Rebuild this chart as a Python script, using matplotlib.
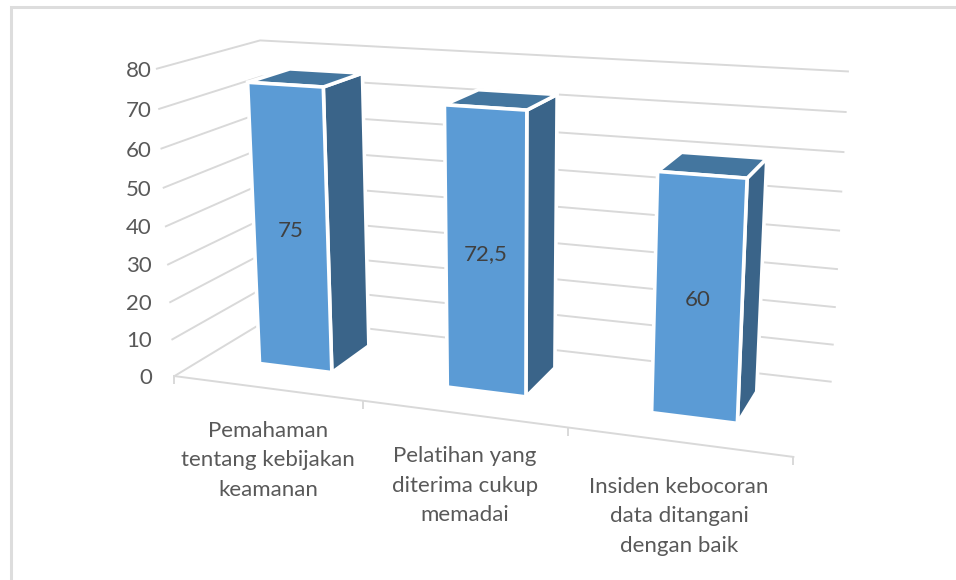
import numpy as np
import matplotlib
matplotlib.use("Agg")
import matplotlib.pyplot as plt

categories = ["Pemahaman\ntentang kebijakan\nkeamanan",
              "Pelatihan yang\nditerima cukup\nmemadai",
              "Insiden kebocoran\ndata ditangani\ndengan baik"]
values = [75, 72.5, 60]
value_labels = ["75", "72,5", "60"]
y_ticks = [0, 10, 20, 30, 40, 50, 60, 70, 80]

# (category pos, value, depth) -> pixel, the points the camera is fitted on
cam_world = [(0, 0, 0), (0, 80, 0), (3, 0, 0), (0, 0, 1), (0, 80, 1), (3, 0, 1), (3, 80, 1), (0, 10, 0)]
cam_pixel = [(175, 377), (157, 68), (793, 457), (271, 317), (260, 41), (831, 381.5), (848, 71.5), (172, 339)]


def fit_camera(world, pixel):
    rows = []
    for (a, b, c), (x, y) in zip(world, pixel):
        rows.append([a, b, c, 1, 0, 0, 0, 0, -x * a, -x * b, -x * c, -x])
        rows.append([0, 0, 0, 0, a, b, c, 1, -y * a, -y * b, -y * c, -y])
    return np.linalg.svd(np.array(rows, dtype=float))[2][-1].reshape(3, 4)


P = fit_camera(cam_world, cam_pixel)


def project(u, v, w):
    x, y, s = P @ np.array([u, v, w, 1.0])
    return x / s, y / s


fig = plt.figure(figsize=(9.56, 5.8), dpi=100)
ax = fig.add_axes([0, 0, 1, 1])
ax.set_xlim(0, 956)
ax.set_ylim(580, 0)
ax.axis("off")

GRID = "#D9D9D9"
TEXT = "#595959"
FONT = "Lato"

# outer frame
ax.plot([11, 11, 956], [580, 7, 7], color="#DDDDDD", lw=2.2, solid_joinstyle="miter")

for t in y_ticks:
    pts = [project(0, t, 0), project(0, t, 1), project(3, t, 1)]
    ax.plot(*zip(*pts), color=GRID, lw=1.4, zorder=1)
    y = project(0, t, 0)[1]
    ax.text(152, y + 2, str(t), ha="right", va="center", color=TEXT, fontsize=16, family=FONT)

# floor front edge and ticks
ax.plot(*zip(project(0, 0, 0), project(3, 0, 0)), color=GRID, lw=1.4, zorder=1)
for i in range(4):
    x, y = project(i, 0, 0)
    ax.plot([x, x], [y, y + 7], color=GRID, lw=1.4, zorder=1)

bar_w = 0.395
w0, w1 = 0.305, 0.74
for i, val in enumerate(values):
    u0, u1 = i + 0.497 - bar_w / 2, i + 0.497 + bar_w / 2
    front = [project(u0, 0, w0), project(u1, 0, w0), project(u1, val, w0), project(u0, val, w0)]
    side = [project(u1, 0, w0), project(u1, 0, w1), project(u1, val, w1), project(u1, val, w0)]
    top = [project(u0, val, w0), project(u1, val, w0), project(u1, val, w1), project(u0, val, w1)]
    ax.fill(*zip(*side), fc="#3A6489", ec="white", lw=2.6, zorder=3)
    ax.fill(*zip(*top), fc="#44769F", ec="white", lw=2.6, zorder=3)
    ax.fill(*zip(*front), fc="#5B9BD5", ec="white", lw=2.6, zorder=4)
    x, y = project(i + 0.497, val / 2, w0)
    ax.text(x, y + 1, value_labels[i], ha="center", va="center", color="#404040", fontsize=16, family=FONT, zorder=5)

label_pos = [(268, 460.5), (465, 485.5), (679, 516.5)]
for (x, y), lab in zip(label_pos, categories):
    ax.text(x, y, lab, ha="center", va="center", color=TEXT, fontsize=16, family=FONT, linespacing=1.6)

fig.savefig("out.png", dpi=100)
